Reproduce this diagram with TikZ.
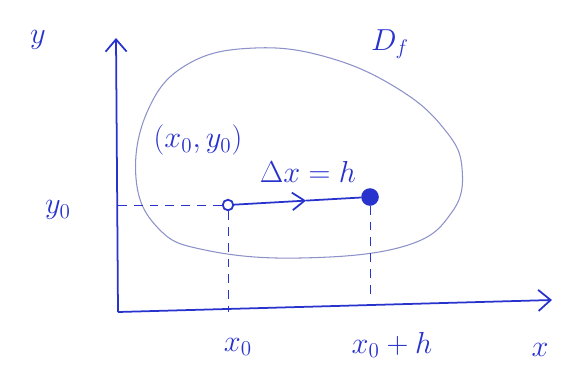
\documentclass[tikz,border=0pt]{standalone}
\usepackage{tikz}
\usetikzlibrary{arrows.meta, positioning, calc}
\definecolor{ink}{RGB}{40,50,205}
\definecolor{pencil}{RGB}{140,145,200}

\begin{document}
\begin{tikzpicture}[x=0.02cm, y=-0.02cm]
\tikzstyle{axis}=[-{Straight Barb[length=7pt, width=12pt]}, ink, line width=1pt]
\tikzstyle{guide}=[ink, dashed, dash pattern=on 5pt off 4pt]
\tikzstyle{dot}=[circle, draw=ink, fill=ink, line width=1pt, inner sep=0pt, minimum size=6pt]
\tikzstyle{lbl}=[ink, font=\fontsize{18}{22}\selectfont]

\useasboundingbox (0,0) rectangle (565,383);

% axes
\coordinate (O) at (118,312);
\coordinate (ytop) at (116,38);
\coordinate (xend) at (552,300);
\draw[axis] (O) -- (ytop);
\draw[axis] (O) -- (xend);

% the domain
\draw[pencil, semithick] plot[smooth cycle, tension=0.7] coordinates {(255,48) (330,58) (400,90) (445,130) (462,168) (452,212) (405,246) (300,258) (205,250) (158,228) (136,178) (148,110) (188,64)};

% points
\node[dot, fill=white, minimum size=6pt] (p0) at (228,205) {};
\node[dot, minimum size=9pt] (p1) at (370,197) {};
\coordinate (mid) at ($(p0)!0.55!(p1)$);
\draw[ink, line width=1pt, -{Straight Barb[length=7pt, width=10pt]}] (p0) -- (mid);
\draw[ink, line width=1pt] (mid) -- (p1);

% guides
\coordinate (y0) at (p0 -| O);
\coordinate (x0) at (p0 |- O);
\coordinate (x1) at (p1 |- xend);
\draw[guide] (y0) -- (p0);
\draw[guide] (p0) -- (x0);
\draw[guide] (p1) -- (x1);

% labels
\node[lbl] (ylbl) at (38,40) {$y$};
\node[lbl] (xlbl) at (540,350) {$x$};
\node[lbl] (df) at (390,44) {$D_f$};
\node[lbl] (p0lbl) at (198,140) {$(x_0,y_0)$};
\node[lbl] (dx) at (308,172) {$\Delta x=h$};
\node[lbl] (y0lbl) at (58,210) {$y_0$};
\node[lbl] (x0lbl) at (238,347) {$x_0$};
\node[lbl] (x1lbl) at (392,345) {$x_0+h$};
\end{tikzpicture}
\end{document}
